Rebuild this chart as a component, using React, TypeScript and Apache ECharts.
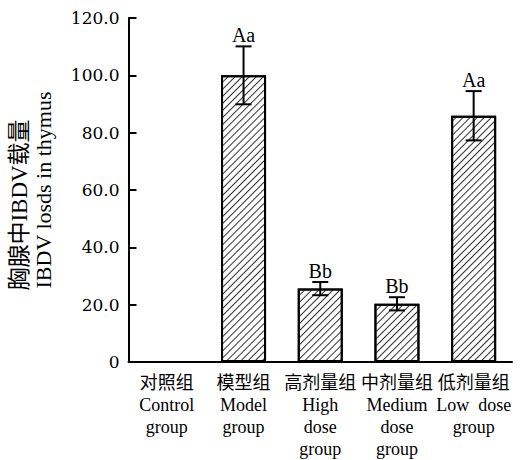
import React, { useEffect, useRef } from "react";
import * as echarts from "echarts";

const categories = [
  "对照组\nControl\ngroup",
  "模型组\nModel\ngroup",
  "高剂量组\nHigh\ndose\ngroup",
  "中剂量组\nMedium\ndose\ngroup",
  "低剂量组\nLow  dose\ngroup",
];
const means: (number | null)[] = [null, 100, 25.6, 20.3, 85.9];
const errors: (number | null)[] = [null, 10.1, 2.3, 2.3, 8.6];
const letters: string[] = ["", "Aa", "Bb", "Bb", "Aa"];
const yTicks = [0, 20, 40, 60, 80, 100, 120];
const yNameCn = "胸腺中IBDV载量";
const yNameEn = "IBDV losds in thymus";

const FONT = '"Liberation Serif", "Times New Roman", "Noto Sans CJK SC", serif';
const NUMFONT = '"DejaVu Serif", "Liberation Serif", serif';

export default function App() {
  const ref = useRef<HTMLDivElement>(null);
  useEffect(() => {
    if (!ref.current) return;
    const chart = echarts.init(ref.current, undefined, { renderer: "svg" });
    const errData = means.map((m, i) =>
      m == null ? [i, null, null, ""] : [i, m - (errors[i] as number), m + (errors[i] as number), letters[i]]
    );
    chart.setOption({
      animation: false,
      backgroundColor: "#fff",
      textStyle: { fontFamily: FONT, color: "#000" },
      grid: { left: 128, right: 10, top: 18, bottom: 98, containLabel: false },
      xAxis: {
        type: "category",
        data: categories,
        axisLine: { lineStyle: { color: "#000", width: 2 } },
        axisTick: { inside: true, length: 7, lineStyle: { color: "#000", width: 2 } },
        axisLabel: {
          interval: 0,
          color: "#000",
          fontSize: 18,
          lineHeight: 22,
          margin: 10,
          fontFamily: FONT,
        },
      },
      yAxis: {
        type: "value",
        min: yTicks[0],
        max: yTicks[yTicks.length - 1],
        interval: 20,
        name: `{cn|${yNameCn}}\n{en|${yNameEn}}`,
        nameLocation: "middle",
        nameGap: 73,
        nameTextStyle: {
          color: "#000",
          fontFamily: FONT,
          rich: {
            cn: { fontSize: 23, lineHeight: 24, color: "#000", fontFamily: FONT, padding: [0, 30, 0, 0] },
            en: { fontSize: 22, lineHeight: 24, color: "#000", fontFamily: FONT },
          },
        },
        axisLine: { show: true, lineStyle: { color: "#000", width: 2 } },
        axisTick: { show: true, inside: true, length: 8, lineStyle: { color: "#000", width: 2 } },
        splitLine: { show: false },
        axisLabel: {
          color: "#000",
          fontSize: 17,
          margin: 9,
          fontFamily: NUMFONT,
          formatter: (v: number) => (v === 0 ? "0" : v.toFixed(1)),
        },
      },
      series: [
        {
          type: "bar",
          data: means.map((m) => (m == null ? null : m)),
          barWidth: 45,
          itemStyle: {
            color: "#fff",
            borderColor: "#000",
            borderWidth: 2,
            decal: {
              symbol: "rect",
              symbolSize: 1,
              dashArrayX: [1, 0],
              dashArrayY: [1, 3.5],
              rotation: -Math.PI / 4,
              color: "#333",
              backgroundColor: "#fff",
            },
          },
        },
        {
          type: "custom",
          data: errData,
          z: 10,
          renderItem: (params: any, api: any) => {
            const lo = api.value(1);
            const hi = api.value(2);
            if (lo == null || isNaN(lo)) return null;
            const pLo = api.coord([api.value(0), lo]);
            const pHi = api.coord([api.value(0), hi]);
            const x = pLo[0];
            const cap = 8;
            const st = { stroke: "#000", lineWidth: 2 };
            return {
              type: "group",
              children: [
                { type: "line", shape: { x1: x, y1: pLo[1], x2: x, y2: pHi[1] }, style: st },
                { type: "line", shape: { x1: x - cap, y1: pLo[1], x2: x + cap, y2: pLo[1] }, style: st },
                { type: "line", shape: { x1: x - cap, y1: pHi[1], x2: x + cap, y2: pHi[1] }, style: st },
                {
                  type: "text",
                  style: {
                    text: letters[params.dataIndex],
                    x: x,
                    y: pHi[1] - 1,
                    textAlign: "center",
                    textVerticalAlign: "bottom",
                    fill: "#000",
                    fontSize: 20,
                    fontFamily: FONT,
                  },
                },
              ],
            };
          },
        },
      ],
    });
    return () => chart.dispose();
  }, []);
  return (
    <div
      ref={ref}
      style={{ position: "fixed", left: 0, top: 0, width: 522, height: 460 }}
    />
  );
}
